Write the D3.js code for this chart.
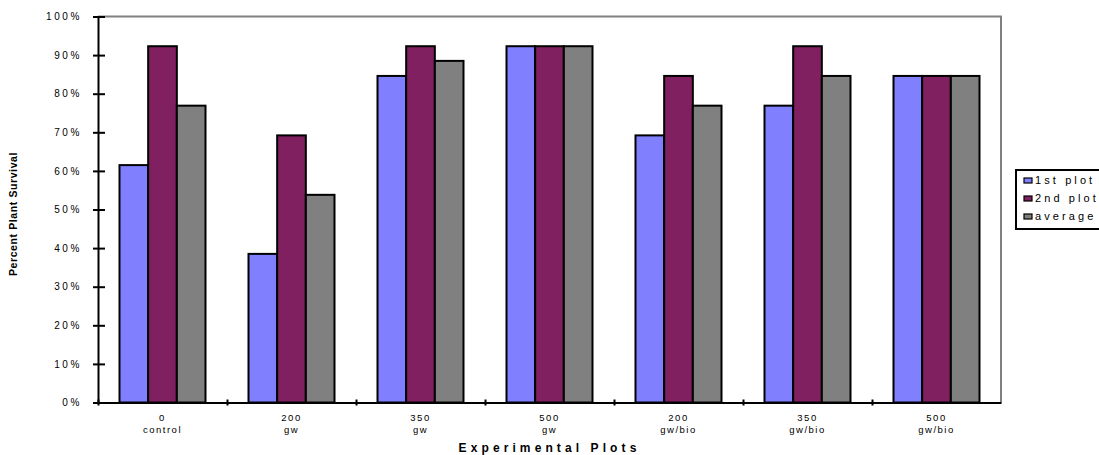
<!DOCTYPE html>
<html>
<head>
<meta charset="utf-8">
<script src="https://cdn.jsdelivr.net/npm/d3@7"></script>
<style>
  html, body { margin: 0; padding: 0; background: #fff; }
  svg { display: block; font-family: "Liberation Sans", Arial, sans-serif; }
</style>
</head>
<body>
<svg id="chart" width="1099" height="455"></svg>
<script>
// Survival per experimental plot (fraction of 13 plants)
const categories = [["0", "control"], ["200", "gw"], ["350", "gw"], ["500", "gw"], ["200", "gw/bio"], ["350", "gw/bio"], ["500", "gw/bio"]];
const seriesNames = ["1st plot", "2nd plot", "average"];
const firstPlot  = [0.615, 0.385, 0.846, 0.923, 0.692, 0.769, 0.846];
const secondPlot = [0.923, 0.692, 0.923, 0.923, 0.846, 0.923, 0.846];
const average    = [0.769, 0.538, 0.885, 0.923, 0.769, 0.846, 0.846];
const yTicks = [0, 0.1, 0.2, 0.3, 0.4, 0.5, 0.6, 0.7, 0.8, 0.9, 1.0];
const colors = ["#8080ff", "#802060", "#808080"];

const seriesValues = [firstPlot, secondPlot, average];

const svg = d3.select("#chart");
const plot = { left: 98, right: 1001, top: 16.5, bottom: 402.5 };

const x = d3.scaleBand()
  .domain(d3.range(categories.length))
  .range([plot.left, plot.right])
  .paddingInner(0).paddingOuter(0);

const barW = x.bandwidth() / 4.5;
const xs = d3.scaleBand()
  .domain(d3.range(seriesNames.length))
  .range([0.75 * barW, 3.75 * barW]);

const y = d3.scaleLinear().domain([0, 1]).range([plot.bottom, plot.top]);

// frame: top and right edges grey
svg.append("path")
  .attr("d", `M${plot.left},${plot.top}H${plot.right}V${plot.bottom}`)
  .attr("fill", "none").attr("stroke", "#808080").attr("stroke-width", 2);

// bars
const groups = svg.append("g").selectAll("g")
  .data(categories.map((c, i) => i))
  .join("g")
  .attr("transform", i => `translate(${x(i)},0)`);

groups.selectAll("rect")
  .data(i => seriesValues.map((vals, s) => ({ s, v: vals[i] })))
  .join("rect")
  .attr("x", d => xs(d.s))
  .attr("width", xs.bandwidth())
  .attr("y", d => y(d.v))
  .attr("height", d => y(0) - y(d.v))
  .attr("fill", d => colors[d.s])
  .attr("stroke", "#000").attr("stroke-width", 2);

// y axis
const yAxis = svg.append("g").attr("transform", `translate(${plot.left},0)`)
  .call(d3.axisLeft(y).tickValues(yTicks).tickFormat(d3.format(".0%")).tickSizeInner(5).tickSizeOuter(0).tickPadding(11));
yAxis.select(".domain").attr("stroke", "#000").attr("stroke-width", 2);
yAxis.selectAll(".tick line").attr("x1", -5).attr("x2", 7).attr("stroke", "#000").attr("stroke-width", 2);
yAxis.selectAll(".tick text")
  .attr("font-size", 10).attr("letter-spacing", "2.6px").attr("fill", "#000")
  .attr("font-family", "Liberation Sans, Arial, sans-serif");

// x axis: ticks between categories
const bounds = d3.range(categories.length + 1).map(i => plot.left + i * x.step());
const xAxisScale = d3.scaleLinear().domain([plot.left, plot.right]).range([plot.left, plot.right]);
const xAxis = svg.append("g").attr("transform", `translate(0,${plot.bottom})`)
  .call(d3.axisBottom(xAxisScale).tickValues(bounds.slice(0, -1)).tickFormat("").tickSizeInner(3).tickSizeOuter(0));
xAxis.select(".domain").attr("stroke", "#000").attr("stroke-width", 2);
xAxis.selectAll(".tick line").attr("y1", -3).attr("y2", 3).attr("stroke", "#000").attr("stroke-width", 2);

// category labels
const catLabels = svg.append("g").selectAll("text")
  .data(categories)
  .join("text")
  .attr("x", (d, i) => x(i) + x.bandwidth() / 2)
  .attr("y", 420.5)
  .attr("text-anchor", "middle")
  .attr("font-size", 9.5)
  .attr("letter-spacing", "1.5px")
  .attr("fill", "#000");
catLabels.append("tspan").attr("x", (d, i) => x(i) + x.bandwidth() / 2).text(d => d[0]);
catLabels.append("tspan").attr("x", (d, i) => x(i) + x.bandwidth() / 2).attr("dy", 12).text(d => d[1]);

// axis titles
svg.append("text")
  .attr("x", (plot.left + plot.right) / 2).attr("y", 452)
  .attr("text-anchor", "middle")
  .attr("font-size", 12).attr("font-weight", "bold").attr("letter-spacing", "4.1px")
  .text("Experimental Plots");

svg.append("text")
  .attr("transform", `translate(17,214) rotate(-90)`)
  .attr("text-anchor", "middle")
  .attr("font-size", 10.5).attr("font-weight", "bold").attr("letter-spacing", "0.6px")
  .text("Percent Plant Survival");

// legend
const legend = svg.append("g").attr("transform", "translate(1016,170)");
legend.append("rect").attr("x", 0).attr("y", 0).attr("width", 100).attr("height", 59)
  .attr("fill", "#fff").attr("stroke", "#000").attr("stroke-width", 2);
const items = legend.selectAll("g.item").data(seriesNames).join("g")
  .attr("class", "item")
  .attr("transform", (d, i) => `translate(0,${i * 18})`);
items.append("rect").attr("x", 8).attr("y", 8).attr("width", 8).attr("height", 5)
  .attr("fill", (d, i) => colors[i]).attr("stroke", "#000").attr("stroke-width", 1.2);
items.append("text").attr("x", 19).attr("y", 13.5)
  .attr("font-size", 11).attr("letter-spacing", "3.1px")
  .text(d => d);
</script>
</body>
</html>
